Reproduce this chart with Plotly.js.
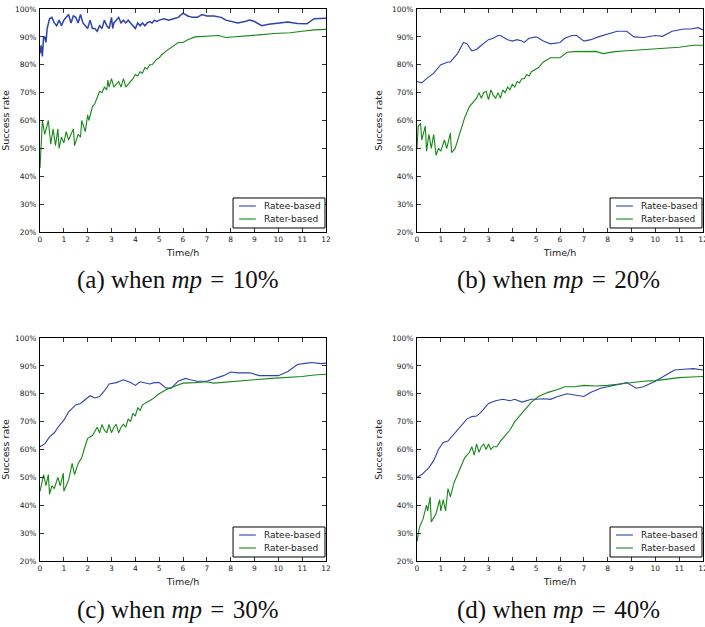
<!DOCTYPE html>
<html>
<head>
<meta charset="utf-8">
<script src="https://cdn.plot.ly/plotly-3.0.1.min.js"></script>
<style>html,body{margin:0;padding:0;background:#fff;}#chart{width:705px;height:627px;}</style>
</head>
<body>
<div id="chart"></div>
<script>
// ---- Data (time in hours, success rate in %) ----
const seriesNames = ["Ratee-based", "Rater-based"];
const xTicks = [0,1,2,3,4,5,6,7,8,9,10,11,12];
const yTicks = [20,30,40,50,60,70,80,90,100];
const captions = ["(a) when <i>mp</i>\u200a = \u200a10%", "(b) when <i>mp</i>\u200a = \u200a20%", "(c) when <i>mp</i>\u200a = \u200a30%", "(d) when <i>mp</i>\u200a = \u200a40%"];

// (a) mp = 10%
const aRateeT = [0,0.05,0.1,0.15,0.2,0.25,0.3,0.4,0.5,0.6,0.7,0.8,0.9,1.0,1.1,1.2,1.3,1.4,1.5,1.6,1.7,1.8,1.9,2.0,2.1,2.2,2.3,2.4,2.5,2.6,2.7,2.8,2.9,3.0,3.05,3.1,3.2,3.3,3.4,3.5,3.6,3.7,3.8,3.9,4.0,4.1,4.2,4.3,4.4,4.5,4.6,4.7,4.8,4.9,5.0,5.2,5.4,5.6,5.8,6.0,6.2,6.4,6.6,6.8,7.0,7.3,7.6,7.8,8.0,8.3,8.6,8.8,9.0,9.3,9.6,10.0,10.4,10.8,11.2,11.5,11.8,12];
const aRateeY = [84,87,83,90,90,88,93,96.5,97,95,94,96,94,96,97,98,95,97.5,97,95,98,95,94,93,96,93,93,92,94,93,96,94,93,97,93,95,96,97,95,96,95,96,95,94,93,95,94,95,94,95,95.5,95,96,95.5,96,96.5,96,96.5,97,98.5,97.5,97,97,98,97.5,97.5,97,96,95.5,95,95.5,96,95.5,94,94.5,95,95.3,94.8,94.7,96.5,96.5,96.7];
const aRaterT = [0,0.05,0.1,0.2,0.3,0.35,0.45,0.55,0.65,0.75,0.8,0.9,1.0,1.1,1.2,1.3,1.4,1.45,1.6,1.7,1.75,1.9,2.0,2.05,2.2,2.3,2.4,2.5,2.6,2.7,2.8,2.85,2.9,3.0,3.1,3.2,3.3,3.4,3.5,3.6,3.7,3.8,3.9,4.0,4.1,4.2,4.3,4.4,4.5,4.6,4.7,4.8,4.9,5.0,5.1,5.3,5.6,5.8,6.0,6.2,6.5,7.0,7.5,7.8,8.2,8.7,9.2,9.8,10.5,11.0,11.5,12];
const aRaterY = [43,52,60,55,58,60,51.5,57,51,57,50,54,52,56,53,55,57,51,55,54,60,56,62,60,65,66,68,70.5,70,72,71,74.5,72,75,72,73,74,72,75,72,73,74,75,76.5,76,77.5,77,79,78.5,80,80,81,82,82.5,83.5,85,87,88,88,89,90,90.2,90.5,89.8,90,90.3,90.7,91.2,91.5,92,92.5,92.7];

// (b) mp = 20%
const bRateeT = [0,0.2,0.4,0.7,1.0,1.3,1.4,1.7,1.95,2.1,2.3,2.5,2.7,3.0,3.2,3.4,3.5,3.8,4.0,4.2,4.4,4.5,4.7,5.0,5.3,5.6,6.0,6.2,6.5,6.7,7.0,7.3,7.6,8.0,8.4,8.8,9.1,9.5,10,10.3,10.7,11.2,11.5,11.8,12];
const bRateeY = [74,73.5,75,77,80,81,81,84,88,87.5,85,85.5,87,89,89.5,90.5,90.5,89,88.5,89,88.5,88,89.5,90,88.5,87.5,88,89.5,90.5,90.5,88.5,89,90,91,92,92,90,89.8,90.5,90.2,92,92.8,92.8,93.3,92.5];
const bRaterT = [0,0.05,0.15,0.2,0.35,0.4,0.5,0.6,0.7,0.8,0.9,1.0,1.15,1.25,1.4,1.45,1.6,1.75,1.85,2.0,2.2,2.4,2.5,2.6,2.7,2.8,2.9,3.0,3.1,3.2,3.3,3.4,3.5,3.6,3.7,3.8,3.9,4.0,4.1,4.2,4.3,4.4,4.5,4.6,4.7,4.8,4.9,5.1,5.3,5.6,6.0,6.3,6.6,7.0,7.5,7.8,8.3,8.8,9.3,10,10.5,11,11.6,12];
const bRaterY = [50,58,59,53,58,49,55,50,55,47.5,50,49,53,50,55.5,48.5,50,54,57,61,65,67,68,70,68,70,70.5,67.5,71,69,68,70,68,71,70,72,71,73,72,74,73.5,75,75,76.5,76,77.5,78,79,81,82.5,82.5,84.5,84.7,84.8,84.8,84,84.7,85,85.3,85.7,86,86.3,87,87];

// (c) mp = 30%
const cRateeT = [0,0.2,0.4,0.6,0.8,1.0,1.2,1.5,1.7,1.9,2.1,2.3,2.5,2.7,2.9,3.2,3.5,3.8,4.0,4.2,4.4,4.6,4.8,5.0,5.3,5.5,5.8,6.1,6.3,6.6,7.0,7.4,7.7,8.0,8.3,8.8,9.2,9.6,10,10.4,10.8,11.2,11.4,11.8,12];
const cRateeY = [61,62,64.5,66,68.5,70.5,73.5,76,76.5,78,79.3,78.5,79,81,83.5,84,85,84,83,84.3,83.8,83.5,84,84,82,82,84.5,85.5,85,84.5,84.5,85.5,86.5,87.8,87.5,87.5,86.5,86.5,86.5,88,90.5,91,91.2,90.8,91];
const cRaterT = [0,0.15,0.25,0.35,0.4,0.5,0.6,0.75,0.85,0.98,1.0,1.2,1.35,1.45,1.6,1.75,1.85,2.0,2.2,2.4,2.5,2.6,2.7,2.8,2.9,3.0,3.1,3.2,3.3,3.4,3.5,3.6,3.7,3.8,3.9,4.0,4.1,4.2,4.3,4.4,4.5,4.7,5.0,5.3,5.6,6.0,6.5,7.0,7.3,8.0,8.5,9.0,9.7,10.3,11,11.5,12];
const cRaterY = [45,51,47,51,44,47,46,50,47,51.5,45,49,55,51,55,57,60,64,65,68,66,69,67,66,69,66,68,69,66,68,69,68,71,70,73,72,75,74,76,76.5,77,78,80,81.5,82.5,83.8,84,84.3,83.8,84.2,84.7,85,85.5,85.8,86.2,86.7,87];

// (d) mp = 40%
const dRateeT = [0,0.2,0.5,0.7,0.9,1.1,1.3,1.5,1.7,1.9,2.1,2.3,2.5,2.7,3.0,3.3,3.6,3.9,4.1,4.4,4.6,4.8,5.0,5.3,5.6,5.9,6.3,6.6,7.0,7.3,7.7,8.0,8.5,8.8,9.2,9.5,10.0,10.5,10.8,11.2,11.6,12];
const dRateeY = [50,51,53.5,56,60,62.5,63,65,67,69,71,71.8,72,73.5,76.5,77.5,78,77.5,78,77,77.5,78,78,78.2,78,79,80,79.5,79,80.5,82,82.5,83.5,84,82,82.5,84.5,87,88.5,88.8,89,88.5];
const dRaterT = [0,0.1,0.25,0.4,0.45,0.55,0.6,0.8,0.95,1.0,1.1,1.2,1.3,1.4,1.55,1.8,2.0,2.2,2.3,2.4,2.5,2.6,2.7,2.8,2.9,3.0,3.1,3.2,3.35,3.5,3.7,3.9,4.1,4.3,4.5,4.8,5.1,5.5,5.9,6.2,6.6,7.0,7.5,8.0,8.5,9.0,9.5,10.0,10.5,11.0,11.5,12];
const dRaterY = [27,32,35,40,38,43,34,37,42,38,42,38,46,43,48,53,57,59,61,58,62,59,61,62,60,62,60,61,61,63,65,67,70,72,74,77,79,80.5,81.5,82.5,82.5,83,82.8,83,83.5,84,84.5,84.7,85.2,85.8,86,86.2];

// ---- Build figure ----
const W = 705, H = 627;
const blue = '#2e42b0', green = '#168816';
const colors = [blue, green];
const panels = [
  {ratee:[aRateeT,aRateeY], rater:[aRaterT,aRaterY], px:[40,326], py:[9,232], bw:1.5},
  {ratee:[bRateeT,bRateeY], rater:[bRaterT,bRaterY], px:[417,703], py:[9,232], bw:1.1},
  {ratee:[cRateeT,cRateeY], rater:[cRaterT,cRaterY], px:[40,326], py:[338,561], bw:1.1},
  {ratee:[dRateeT,dRateeY], rater:[dRaterT,dRaterY], px:[417,703], py:[338,561], bw:1.1}
];
const capPos = [[178,280],[558,280],[178,610],[558,610]];

const traces = [];
const layout = {
  width: W, height: H,
  margin: {l:0, r:0, t:0, b:0},
  paper_bgcolor: '#fff', plot_bgcolor: '#fff',
  showlegend: false,
  font: {family: 'DejaVu Sans', color: '#222'},
  annotations: [], shapes: []
};
const tickFont = {family: 'DejaVu Sans', size: 7.5, color: '#222'};
const titleFont = {family: 'DejaVu Sans', size: 9.5, color: '#222'};
const legFont = {family: 'DejaVu Sans', size: 9, color: '#222'};

panels.forEach((p, i) => {
  const n = i + 1;
  const xa = n === 1 ? 'x' : 'x' + n;
  const ya = n === 1 ? 'y' : 'y' + n;
  traces.push({x: p.ratee[0], y: p.ratee[1], type: 'scatter', mode: 'lines', name: seriesNames[0],
    line: {color: blue, width: p.bw}, xaxis: xa, yaxis: ya});
  traces.push({x: p.rater[0], y: p.rater[1], type: 'scatter', mode: 'lines', name: seriesNames[1],
    line: {color: green, width: 1.1}, xaxis: xa, yaxis: ya});
  const xk = n === 1 ? 'xaxis' : 'xaxis' + n;
  const yk = n === 1 ? 'yaxis' : 'yaxis' + n;
  layout[xk] = {
    domain: [p.px[0]/W, p.px[1]/W], anchor: ya, range: [0, 12],
    tickvals: xTicks, ticktext: xTicks.map(String),
    ticks: 'inside', ticklen: 4, tickwidth: 0.8, tickcolor: '#000',
    showline: true, linecolor: '#000', linewidth: 1, mirror: 'allticks',
    showgrid: false, zeroline: false, tickfont: tickFont, ticklabelstandoff: 0,
    ticklabeloverflow: 'allow',
    title: {text: 'Time/h', font: titleFont, standoff: 6}
  };
  layout[yk] = {
    domain: [1 - p.py[1]/H, 1 - p.py[0]/H], anchor: xa, range: [20, 100],
    tickvals: yTicks, ticktext: yTicks.map(v => v + '%'),
    ticks: 'inside', ticklen: 4, tickwidth: 0.8, tickcolor: '#000',
    showline: true, linecolor: '#000', linewidth: 1, mirror: 'allticks',
    showgrid: false, zeroline: false, tickfont: tickFont, ticklabelstandoff: 1,
    title: {text: 'Success rate', font: titleFont, standoff: 7}
  };
  // legend box (legend key drawn in axis-domain coordinates)
  const xd = xa + ' domain', yd = ya + ' domain';
  layout.shapes.push({type: 'rect', xref: xd, yref: yd, x0: 0.675, x1: 0.9965, y0: 0.018, y1: 0.1525,
    line: {color: '#000', width: 1}, fillcolor: '#fff', layer: 'above'});
  [0.1166, 0.0583].forEach((yy, k) => {
    layout.shapes.push({type: 'line', xref: xd, yref: yd, x0: 0.696, x1: 0.755, y0: yy, y1: yy,
      line: {color: colors[k], width: 1.1}, layer: 'above'});
    layout.annotations.push({text: seriesNames[k], xref: xd, yref: yd, x: 0.776, y: yy,
      xanchor: 'left', yanchor: 'middle', showarrow: false, font: legFont});
  });
  layout.annotations.push({
    text: captions[i], xref: 'paper', yref: 'paper',
    x: capPos[i][0]/W, y: 1 - capPos[i][1]/H, xanchor: 'center', yanchor: 'middle',
    showarrow: false, font: {family: 'Liberation Serif', size: 25, color: '#111'}
  });
});

Plotly.newPlot('chart', traces, layout, {staticPlot: true, displayModeBar: false});
</script>
</body>
</html>
